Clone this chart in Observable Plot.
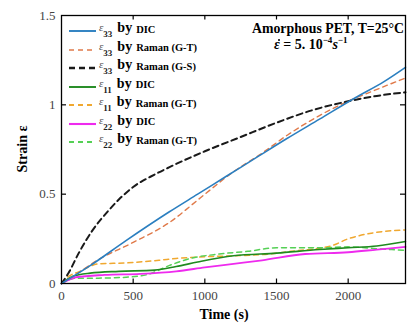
<!DOCTYPE html>
<html>
<head>
<meta charset="utf-8">
<script src="https://cdn.jsdelivr.net/npm/d3@7"></script>
<script src="https://cdn.jsdelivr.net/npm/@observablehq/plot@0.6"></script>
<style>
  body { margin: 0; background: #fff; }
  #wrap { position: relative; width: 411px; height: 329px; font-family: "Liberation Serif", serif; }
  #legend { position: absolute; left: 68px; top: 21px; background: #fff; }
  .row { height: 18.5px; display: flex; align-items: center; white-space: nowrap; }
  .row svg { margin-right: 2px; }
  .eps { font-style: italic; font-size: 11px; color: #555; position: relative; top: -3px; }
  .sub { font-size: 9px; font-weight: bold; position: relative; top: 4px; color: #222; }
  .by { font-size: 14px; font-weight: bold; margin-left: 5px; position: relative; top: -2px; }
  .src { font-size: 10.5px; font-weight: bold; margin-left: 4px; position: relative; top: -1px; }
  #note1 { position: absolute; right: 7px; top: 21px; font-size: 13.8px; font-weight: bold; white-space: nowrap; }
  #note2 { position: absolute; left: 274px; top: 35px; font-size: 14px; font-weight: bold; white-space: nowrap; }
  #note2 sup { font-size: 9px; }
  .dot { position: relative; display: inline-block; }
  .dot::after { content: ""; position: absolute; left: 3.5px; top: 2px; width: 2.5px; height: 2.5px; border-radius: 50%; background: #000; }
  #ylab { position: absolute; left: 23px; top: 149px; transform: translate(-50%,-50%) rotate(-90deg); font-size: 14px; font-weight: bold; white-space: nowrap; }
  #xlab { position: absolute; left: 224px; top: 307px; transform: translateX(-50%); font-size: 14px; font-weight: bold; white-space: nowrap; }
</style>
</head>
<body>
<div id="wrap"></div>
<script>
// ---- data (time in s, strain) ----
const e33DIC_t = [0, 200, 450, 750, 950, 1150, 1350, 1570, 1800, 2050, 2250, 2400];
const e33DIC_v = [0, 0.1, 0.24, 0.4, 0.5, 0.6, 0.7, 0.81, 0.92, 1.04, 1.13, 1.21];

const e33GT_t = [0, 100, 250, 500, 750, 970, 1190, 1400, 1575, 1800, 2000, 2150, 2400];
const e33GT_v = [0, 0.05, 0.13, 0.23, 0.34, 0.48, 0.62, 0.73, 0.83, 0.94, 1.02, 1.07, 1.15];

const e33GS_t = [0, 50, 120, 210, 330, 400, 500, 650, 750, 1000, 1250, 1500, 1750, 2000, 2200, 2400];
const e33GS_v = [0, 0.06, 0.17, 0.29, 0.41, 0.47, 0.54, 0.61, 0.65, 0.74, 0.82, 0.9, 0.97, 1.02, 1.05, 1.07];

const e11DIC_t = [0, 80, 200, 400, 650, 800, 950, 1200, 1500, 1800, 2000, 2200, 2400];
const e11DIC_v = [0, 0.04, 0.058, 0.068, 0.075, 0.095, 0.12, 0.155, 0.17, 0.19, 0.2, 0.21, 0.235];

const e11GT_t = [0, 50, 120, 260, 450, 680, 800, 1000, 1200, 1450, 1600, 1880, 2000, 2150, 2400];
const e11GT_v = [0, 0.04, 0.065, 0.11, 0.115, 0.13, 0.14, 0.15, 0.155, 0.165, 0.18, 0.21, 0.25, 0.28, 0.30];

const e22DIC_t = [0, 100, 300, 550, 800, 1000, 1200, 1400, 1700, 2000, 2200, 2400];
const e22DIC_v = [0, 0.035, 0.048, 0.054, 0.068, 0.09, 0.11, 0.13, 0.165, 0.175, 0.19, 0.205];

const e22GT_t = [0, 100, 250, 450, 600, 750, 900, 1100, 1300, 1500, 1800, 2000, 2200, 2400];
const e22GT_v = [0, 0.03, 0.03, 0.035, 0.05, 0.1, 0.14, 0.165, 0.18, 0.2, 0.2, 0.205, 0.195, 0.185];

const xTicks = [0, 500, 1000, 1500, 2000];
const yTicks = [0, 0.5, 1, 1.5];
const xInner = [500, 1000, 1500, 2000];
const yInner = [0.5, 1];

const seriesNames = ["33", "33", "33", "11", "11", "22", "22"];
const seriesSources = ["DIC", "Raman (G-T)", "Raman (G-S)", "DIC", "Raman (G-T)", "DIC", "Raman (G-T)"];
const seriesColors = ["#2b7fc0", "#e07a4a", "#1a1a1a", "#1f8a1f", "#f0a830", "#ee2aee", "#55d055"];
const seriesDash = [null, "5,4", "6,4", null, "5,4", null, "5,4"];
const seriesWidth = [1.6, 1.4, 2, 1.6, 1.5, 1.8, 1.5];

const times = [e33DIC_t, e33GT_t, e33GS_t, e11DIC_t, e11GT_t, e22DIC_t, e22GT_t];
const values = [e33DIC_v, e33GT_v, e33GS_v, e11DIC_v, e11GT_v, e22DIC_v, e22GT_v];

const lineMarks = times.map((ts, i) => {
  const rows = ts.map((t, j) => ({t, v: values[i][j]}));
  return Plot.line(rows, {
    x: "t", y: "v", stroke: seriesColors[i], strokeWidth: seriesWidth[i],
    strokeDasharray: seriesDash[i] || undefined, curve: "monotone-x"
  });
});
const order = [4, 6, 3, 5, 1, 2, 0];

const plot = Plot.plot({
  width: 411, height: 329,
  marginLeft: 61, marginRight: 6, marginTop: 15, marginBottom: 46,
  style: {fontFamily: "Liberation Serif, serif", fontSize: "13px", color: "#444", background: "white"},
  x: {domain: [0, 2400]},
  y: {domain: [0, 1.5]},
  marks: [
    ...order.map(i => lineMarks[i]),
    Plot.axisX(xTicks, {tickSize: 0, tickPadding: 7, label: null, tickFormat: d => String(d)}),
    Plot.axisY(yTicks, {tickSize: 0, tickPadding: 6, label: null, tickFormat: d => String(d)}),
    Plot.ruleX(xInner, {x: d => d, y1: 0, y2: 0.025, stroke: "black", strokeWidth: 1.2}),
    Plot.ruleX(xInner, {x: d => d, y1: 1.5, y2: 1.475, stroke: "black", strokeWidth: 1.2}),
    Plot.ruleY(yInner, {y: d => d, x1: 0, x2: 35, stroke: "black", strokeWidth: 1.2}),
    Plot.ruleY(yInner, {y: d => d, x1: 2400, x2: 2365, stroke: "black", strokeWidth: 1.2}),
    Plot.frame({stroke: "black", strokeWidth: 1.3})
  ]
});

const wrap = document.getElementById("wrap");
wrap.appendChild(plot);

const leg = document.createElement("div");
leg.id = "legend";
seriesNames.forEach((n, i) => {
  const row = document.createElement("div");
  row.className = "row";
  const dash = seriesDash[i] ? `stroke-dasharray="${seriesDash[i]}"` : "";
  row.innerHTML = `<svg width="29" height="10"><line x1="1" y1="6" x2="28" y2="6" stroke="${seriesColors[i]}" stroke-width="${seriesWidth[i] + 0.3}" ${dash}/></svg>` +
    `<span class="eps">ε</span><span class="sub">${n}</span><span class="by">by</span><span class="src">${seriesSources[i]}</span>`;
  leg.appendChild(row);
});
wrap.appendChild(leg);

const n1 = document.createElement("div");
n1.id = "note1"; n1.textContent = "Amorphous PET, T=25°C";
wrap.appendChild(n1);
const n2 = document.createElement("div");
n2.id = "note2";
n2.innerHTML = "<i class=\"dot\">ε</i> = 5. 10<sup>−4</sup><i>s</i><sup>−1</sup>";
wrap.appendChild(n2);
const yl = document.createElement("div");
yl.id = "ylab"; yl.textContent = "Strain ε";
wrap.appendChild(yl);
const xl = document.createElement("div");
xl.id = "xlab"; xl.textContent = "Time (s)";
wrap.appendChild(xl);
</script>
</body>
</html>
